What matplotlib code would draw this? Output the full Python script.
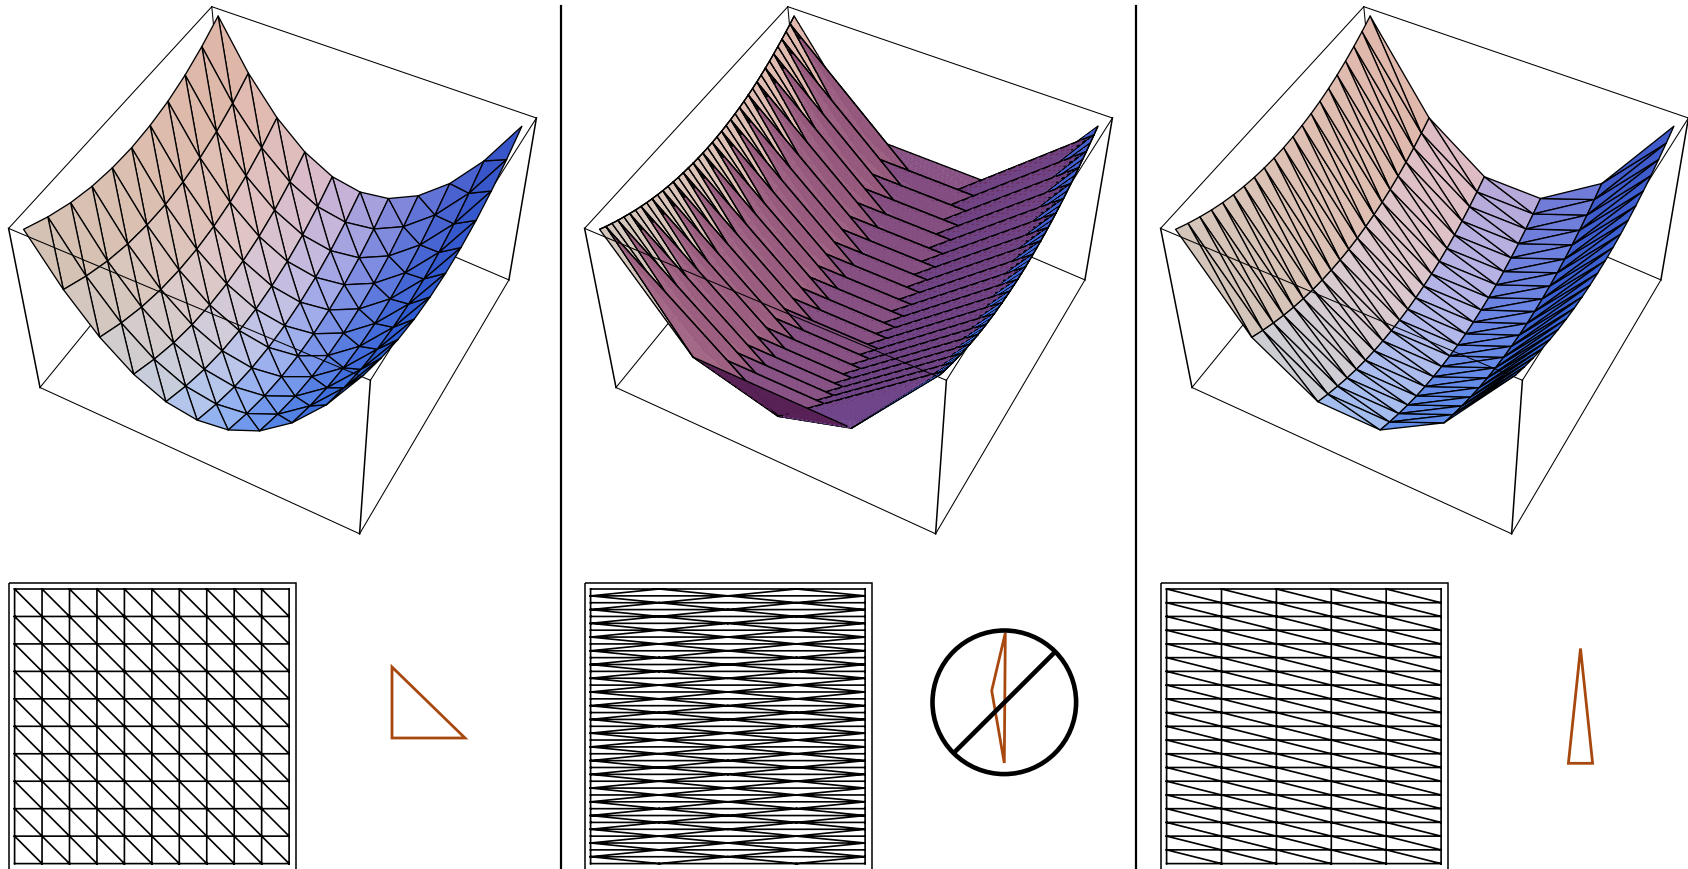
import numpy as np
import matplotlib
matplotlib.use('Agg')
import matplotlib.pyplot as plt
import matplotlib.tri as mtri
from matplotlib.collections import PolyCollection
from matplotlib.patches import Circle, Rectangle

drop_u_10 = [0.0, 0.274, 0.486, 0.638, 0.730, 0.760, 0.730, 0.638, 0.486, 0.274, 0.0]
drop_v_10 = [0.0, 0.068, 0.122, 0.160, 0.182, 0.190, 0.182, 0.160, 0.122, 0.068, 0.0]

drop_u_4 = [0.0, 0.570, 0.760, 0.570, 0.0]
drop_v_40 = [0.0, 0.019, 0.036, 0.053, 0.068, 0.083, 0.097, 0.110, 0.122, 0.133, 0.143,
             0.152, 0.160, 0.167, 0.173, 0.178, 0.182, 0.186, 0.188, 0.190, 0.190,
             0.190, 0.188, 0.186, 0.182, 0.178, 0.173, 0.167, 0.160, 0.152, 0.143,
             0.133, 0.122, 0.110, 0.097, 0.083, 0.068, 0.053, 0.036, 0.019, 0.0]

drop_u_5 = [0.0, 0.486, 0.730, 0.730, 0.486, 0.0]
drop_v_20 = [0.0, 0.036, 0.068, 0.097, 0.122, 0.143, 0.160, 0.173, 0.182, 0.188, 0.190,
             0.188, 0.182, 0.173, 0.160, 0.143, 0.122, 0.097, 0.068, 0.036, 0.0]

# box corners as (u, v, z) and where they land on the page for the first panel
box_uvw = np.array([[0, 0, 1], [1, 0, 1], [0, 1, 1], [1, 1, 1],
                    [0, 0, 0], [1, 0, 0], [0, 1, 0], [1, 1, 0]], float)
box_px = np.array([[211.8, 6.7], [536.4, 118.0], [8.6, 228.4], [370.4, 380.3],
                   [226.0, 159.0], [508.9, 279.9], [40.0, 387.5], [359.6, 533.8]])

panel_dx = [0, 576, 1152]
panel_split = [1, 16, 1]
tri_color = '#a8480f'
inset = 0.025
top_z = 0.975

# depth rows for the shading, rough orthographic fit of the box axes
view = np.array([[324.6, -203.2, 4.0], [-111.3, -221.7, 155.0], [136.8, 301.8, 116.6]])

# rgb = shade @ (1, nx, ny, nz), fitted to colours picked off the faces
shade = np.array([[0.32, 0.34, 0.55],
                  [0.30, 0.27, 0.00],
                  [0.12, 0.30, 0.38],
                  [0.46, 0.23, 0.10]])


def fit_camera(uvw, px):
    rows = []
    rhs = []
    for (a, b, c), (x, y) in zip(uvw, px):
        rows.append([a, b, c, 1, 0, 0, 0, 0, -x*a, -x*b, -x*c])
        rows.append([0, 0, 0, 0, a, b, c, 1, -y*a, -y*b, -y*c])
        rhs += [x, y]
    p = np.linalg.lstsq(np.array(rows), np.array(rhs), rcond=None)[0]
    return np.append(p, 1).reshape(3, 4)


def project(cam, pts):
    h = np.c_[pts, np.ones(len(pts))] @ cam.T
    return h[:, :2] / h[:, 2:]


def grid_mesh(du, dv):
    nu, nv = len(du), len(dv)
    uu, vv = np.meshgrid(np.arange(nu) / (nu - 1), np.arange(nv) / (nv - 1))
    dd = np.add.outer(dv, du)
    tris = []
    for j in range(nv - 1):
        for i in range(nu - 1):
            a = j * nu + i
            tris.append([a, a + 1, a + nu + 1])
            tris.append([a, a + nu + 1, a + nu])
    return uu.ravel(), vv.ravel(), dd.ravel(), np.array(tris)


def staggered_mesh(du, dv):
    # even rows carry u = 0, 1/4, 3/4, 1 and odd rows u = 0, 1/2, 1
    even = [0, 1, 3, 4]
    odd = [0, 2, 4]
    us, vs, ds, start = [], [], [], []
    for j, d in enumerate(dv):
        start.append(len(us))
        for i in (even if j % 2 == 0 else odd):
            us.append(i / 4)
            vs.append(j / (len(dv) - 1))
            ds.append(du[i] + d)
    tris = []
    for j in range(len(dv) - 1):
        s, t = start[j], start[j + 1]
        if j % 2 == 0:
            tris += [[s, s + 1, t], [s + 1, t + 1, t], [s + 1, s + 2, t + 1],
                     [s + 2, t + 2, t + 1], [s + 2, s + 3, t + 2]]
        else:
            tris += [[s, t + 1, t], [s, s + 1, t + 1], [s + 1, t + 2, t + 1],
                     [s + 1, s + 2, t + 2], [s + 2, t + 3, t + 2]]
    return np.array(us), np.array(vs), np.array(ds), np.array(tris)


def split_triangle(p, k):
    # small triangles of one face, so that overlapping faces sort properly
    node = lambda i, j: (p[0] * (k - i - j) + p[1] * i + p[2] * j) / k
    out = []
    for i in range(k):
        for j in range(k - i):
            out.append([node(i, j), node(i + 1, j), node(i, j + 1)])
            if i + j < k - 1:
                out.append([node(i + 1, j), node(i + 1, j + 1), node(i, j + 1)])
    return out


def draw_surface(ax, cam, dx, k, us, vs, ds, tris):
    pts = np.c_[inset + (1 - 2 * inset) * us, inset + (1 - 2 * inset) * vs, top_z - ds]
    polys, faces, edges, depths = [], [], [], []
    for tri in tris:
        corner = pts[tri]
        pv = corner @ view.T
        n = np.cross(pv[1] - pv[0], pv[2] - pv[0])
        n = n / np.linalg.norm(n)
        if n @ np.array([0, 0.25, 1]) < 0:
            n = -n
        rgb = np.clip(np.r_[1, n] @ shade, 0, 1)
        for piece in split_triangle(corner, k):
            piece = np.array(piece)
            polys.append(project(cam, piece) + [dx, 0])
            faces.append(rgb)
            edges.append(rgb if k > 1 else 'black')
            depths.append((piece @ view.T)[:, 2].mean())
        if k > 1:
            for a, b in [(0, 1), (1, 2), (2, 0)]:
                for t in range(k):
                    seg = np.array([corner[a] + (corner[b] - corner[a]) * t / k,
                                    corner[a] + (corner[b] - corner[a]) * (t + 1) / k])
                    polys.append(project(cam, seg) + [dx, 0])
                    faces.append('none')
                    edges.append('black')
                    depths.append((seg @ view.T)[:, 2].mean() + 2.0)
    order = np.argsort(depths)
    widths = [0.95 if isinstance(edges[i], str) else 0.3 for i in order]
    pc = PolyCollection([polys[i] for i in order], facecolors=[faces[i] for i in order],
                        edgecolors=[edges[i] for i in order], linewidths=widths,
                        zorder=3, joinstyle='round', capstyle='round')
    ax.add_collection(pc)


def box_line(ax, pts, a, b, z, lw=0.75):
    ax.plot(pts[[a, b], 0], pts[[a, b], 1], color='black', lw=lw, zorder=z)


def draw_mesh(fig, dx, us, vs, tris):
    ax = fig.add_axes([(14.6 + dx) / 1688, 1 - 863.6 / 869, 274.5 / 1688, 274.6 / 869])
    ax.set_xlim(0, 1)
    ax.set_ylim(1, 0)
    ax.axis('off')
    ax.triplot(mtri.Triangulation(us, vs, tris), color='black', lw=1.2, clip_on=False)


fig = plt.figure(figsize=(16.88, 8.69), dpi=100)
page = fig.add_axes([0, 0, 1, 1])
page.set_xlim(0, 1688)
page.set_ylim(869, 0)
page.axis('off')

cam = fit_camera(box_uvw, box_px)
meshes = [grid_mesh(drop_u_10, drop_v_10),
          staggered_mesh(drop_u_4, drop_v_40),
          grid_mesh(drop_u_5, drop_v_20)]

for dx, k, (us, vs, ds, tris) in zip(panel_dx, panel_split, meshes):
    corners = box_px + [dx, 0]
    for a, b in [(0, 1), (0, 2), (1, 3), (4, 5), (4, 6), (0, 4)]:
        box_line(page, corners, a, b, 1)
    draw_surface(page, cam, dx, k, us, vs, ds, tris)
    box_line(page, corners, 2, 3, 4)
    box_line(page, corners, 2, 6, 4, 1.1)
    box_line(page, corners, 6, 7, 4)
    box_line(page, corners, 3, 7, 4, 1.1)
    box_line(page, corners, 7, 5, 4)
    box_line(page, corners, 1, 5, 4, 1.1)
    page.add_patch(Rectangle((8.6 + dx, 582.6), 287.8, 300, fill=False, ec='black', lw=1.1))
    draw_mesh(fig, dx, us, vs, tris)

# element shapes to the right of each mesh
shape_x = [[392, 392, 465], [1005.3, 1004.3, 991.7], [1580.5, 1592.6, 1568.4]]
shape_y = [[667, 738, 738], [633, 763, 690.7], [648.5, 763.3, 763.3]]
for sx, sy in zip(shape_x, shape_y):
    page.fill(sx, sy, fill=False, ec=tri_color, lw=2.0, joinstyle='miter')

page.add_patch(Circle((1004.3, 702.3), 71.8, fill=False, ec='black', lw=3.3, zorder=5))
page.plot([954, 1054.3], [752.7, 652.7], color='black', lw=3.3, zorder=5, solid_capstyle='butt')

for x in [560.5, 1136]:
    page.plot([x, x], [6, 869], color='black', lw=1.6)

fig.savefig('out.png', dpi=100)
